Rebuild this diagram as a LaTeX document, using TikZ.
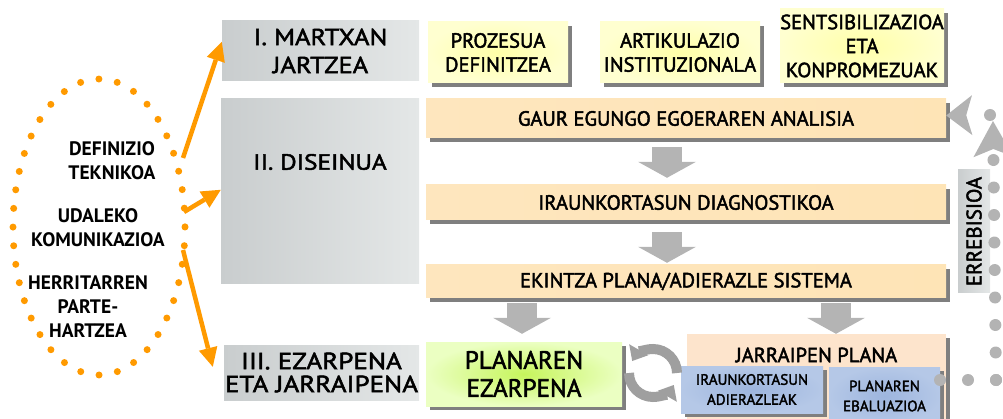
\documentclass[tikz,border=0pt]{standalone}
\usepackage{fontspec}
\setmainfont{PT Sans}
\newfontfamily\boxfont[FakeBold=2.2]{PT Sans}
\newfontfamily\phasefont[FakeBold=2.2,FakeStretch=1.15]{PT Sans}
\usetikzlibrary{arrows.meta,shadows,positioning}
\definecolor{phaseL}{HTML}{C9CDCE}
\definecolor{phaseR}{HTML}{E4E7E7}
\definecolor{taskIn}{HTML}{FFFFA8}
\definecolor{taskOut}{HTML}{FFFFD0}
\definecolor{stageL}{HTML}{FEE6BE}
\definecolor{stageM}{HTML}{FDD394}
\definecolor{stageR}{HTML}{FEE4B6}
\definecolor{implIn}{HTML}{C6F55C}
\definecolor{implOut}{HTML}{EBFFC2}
\definecolor{follow}{HTML}{FDE4CC}
\definecolor{indIn}{HTML}{9DB5DE}
\definecolor{indOut}{HTML}{B5C8E7}
\definecolor{shadowgrey}{HTML}{7F7F7F}
\definecolor{grporange}{HTML}{FF9A00}
\definecolor{flowgrey}{HTML}{B4B4B4}
\definecolor{revgrey}{HTML}{B3B3B3}
\newcommand{\fsize}[2]{\fontsize{#1}{#2}\selectfont}
\tikzstyle{boxshadow} = [general shadow={fill=shadowgrey, shadow xshift=4pt, shadow yshift=-4pt}]
\tikzstyle{phase} = [rectangle, inner sep=0pt, left color=phaseL, right color=phaseR, align=center, font=\phasefont\fsize{23}{28}]
\tikzstyle{task} = [rectangle, inner sep=0pt, boxshadow, inner color=taskIn, outer color=taskOut, align=center, font=\boxfont\fsize{20.5}{24}]
\tikzstyle{stage} = [rectangle, inner sep=0pt, boxshadow, minimum width=520, left color=stageL, middle color=stageM, right color=stageR, font=\boxfont\fsize{20.5}{24}]
\tikzstyle{grp} = [align=center, inner sep=0pt, font=\bfseries\fsize{19.5}{24}]
\tikzstyle{grparrow} = [draw=grporange, line width=4.5pt, -{Triangle[width=19pt,length=19pt,line width=0pt]}]
\tikzstyle{flowarrow} = [draw=flowgrey, line width=30pt, -{Triangle[width=58pt,length=16pt,line width=0pt]}]
\tikzstyle{cycarrow} = [draw=gray!75, line width=10pt, -{Triangle[width=22pt,length=13pt,line width=0pt]}]
\tikzstyle{revdots} = [draw=revgrey, line width=12pt, line cap=round]
\begin{document}
\begin{tikzpicture}[x=1pt,y=-1pt]
\useasboundingbox (0,0) rectangle (1003,419);
% working groups round the process
\draw[grporange, line width=7pt, line cap=round, dash pattern=on 0pt off 18.7pt] (99,227) ellipse [x radius=86, y radius=148];
\node (def) [grp] at (112,161) {DEFINIZIO\\TEKNIKOA};
\node (kom) [grp] at (98,228) {UDALEKO\\KOMUNIKAZIOA};
\node (her) [grp] at (88,307) {HERRITARREN\\PARTE-\\HARTZEA};
\coordinate (e1) at (183,158);
\coordinate (e2) at (184,212);
\coordinate (e3) at (183,250);

% phases
\node (ph1) [phase, minimum width=197, minimum height=60] at (320.5,51) {I. MARTXAN\\JARTZEA};
\node (ph2) [phase, minimum width=198, minimum height=185] at (320,191.5) {};
\node (ph2t) [font=\phasefont\fsize{22}{28}] at (320,162) {II. DISEINUA};
\node (ph3) [phase, minimum width=195, minimum height=55, font=\phasefont\fsize{23.5}{23}] at (321.5,372.5) {III. EZARPENA\\ETA JARRAIPENA};
\draw[grparrow] (e1) -- ([yshift=-21pt]ph1.north west);
\draw[grparrow] (e2) -- ([yshift=-91pt]ph2.north west);
\draw[grparrow] (e3) -- ([xshift=-11pt,yshift=-22pt]ph3.north west);

% start-up tasks
\node (tk1) [task, minimum width=140, minimum height=61] at (498,52.5) {PROZESUA\\DEFINITZEA};
\node (tk2) [task, minimum width=160, minimum height=61] at (680,52.5) {ARTIKULAZIO\\INSTITUZIONALA};
\node (tk3) [task, minimum width=164, minimum height=74] at (862,46) {SENTSIBILIZAZIOA\\ETA\\KONPROMEZUAK};

% design stages
\node (st1) [stage, minimum height=39] at (686,118.5) {GAUR EGUNGO EGOERAREN ANALISIA};
\node (st2) [stage, minimum height=35] at (686,202.5) {IRAUNKORTASUN DIAGNOSTIKOA};
\node (st3) [stage, minimum height=33] at (686,281.5) {EKINTZA PLANA/ADIERAZLE SISTEMA};

% implementation and follow-up
\node (impl) [rectangle, inner sep=0pt, boxshadow, inner color=implIn, outer color=implOut, minimum width=196, minimum height=64, align=center, font=\boxfont\fsize{25}{28}] at (524,374) {PLANAREN\\EZARPENA};
\node (jp) [rectangle, inner sep=0pt, boxshadow, fill=follow, minimum width=259, minimum height=91] at (816.5,379.5) {};
\node (jpt) [font=\boxfont\fsize{20.5}{24}] at (816.5,355) {JARRAIPEN PLANA};
\node (ind) [rectangle, inner sep=0pt, boxshadow, inner color=indIn, outer color=indOut, minimum width=142, minimum height=47, align=center, font=\boxfont\fsize{15}{20}] at (752,389.5) {IRAUNKORTASUN\\ADIERAZLEAK};
\node (eval) [rectangle, inner sep=0pt, boxshadow, inner color=indIn, outer color=indOut, minimum width=111, minimum height=58, align=center, font=\boxfont\fsize{15}{20}] at (884.5,396) {PLANAREN\\EBALUAZIOA};

% flow between stages
\draw[flowarrow] ([xshift=-19pt,yshift=-9pt]st1.south) -- ([xshift=-19pt,yshift=7pt]st2.north);
\draw[flowarrow] ([xshift=-19pt,yshift=-12pt]st2.south) -- ([xshift=-19pt,yshift=2pt]st3.north);
\draw[flowarrow] ([xshift=-164pt,yshift=-5pt]st3.south) -- ([xshift=-2pt,yshift=8pt]impl.north);
\draw[flowarrow] ([xshift=150pt,yshift=-5pt]st3.south) -- ([xshift=19.5pt]jp.north);

% cycle between implementation and follow-up
\coordinate (cyc) at (653,373);
\draw[cycarrow] (cyc) ++(0:24) arc[start angle=0, end angle=-150, radius=24];
\draw[cycarrow] (cyc) ++(180:24) arc[start angle=180, end angle=30, radius=24];

% revision loop
\node (rev) [rectangle, inner sep=0pt, left color=phaseL, right color=phaseR, rotate=90, minimum width=123, minimum height=32, font=\boxfont\fsize{21}{24}] at (974,231.5) {ERREBISIOA};
\coordinate (rv0) at (940,380);
\coordinate (rv1) at (996,380);
\coordinate (rv2) at (993,121);
\coordinate (rvtop) at (990,115);
\draw[revdots, dash pattern=on 0pt off 28pt] (rv0) -- (rv1);
\draw[revdots, dash pattern=on 0pt off 27.5pt, -{Stealth[length=36pt,width=40pt,inset=8pt,line width=0pt]}] (rv1) -- (rv2);
\draw[revdots, dash pattern=on 0pt off 60pt, -{Stealth[length=26pt,width=40pt,inset=6pt,line width=0pt]}] (rvtop) -- ([yshift=3pt]st1.east);
\end{tikzpicture}
\end{document}
